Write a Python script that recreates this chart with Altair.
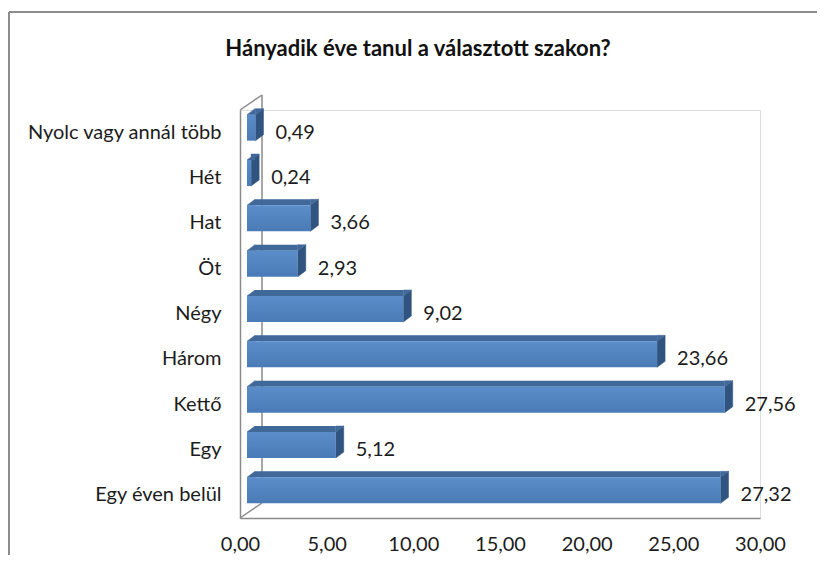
import altair as alt
import pandas as pd

categories = ["Nyolc vagy annál több", "Hét", "Hat", "Öt", "Négy", "Három", "Kettő", "Egy", "Egy éven belül"]
values = [0.49, 0.24, 3.66, 2.93, 9.02, 23.66, 27.56, 5.12, 27.32]
title_text = "Hányadik éve tanul a választott szakon?"
x_ticks = [0, 5, 10, 15, 20, 25, 30]

df = pd.DataFrame({"cat": categories, "val": values})
df["zero"] = 0.0
df["lab"] = [f"{v:.2f}".replace(".", ",") for v in values]

W, H = 520, 408
FONT = "Lato"
FS = 20
FX, FY = 7, -5          # front face offset
FRONT_H = 26
C_TOP = "#40699A"
C_SIDE = "#30547F"
C_LINE = "#8a8a8a"
C_TEXT = "#1c1c1c"

xs = alt.Scale(domain=[0, 30], nice=False, zero=True)
ys = alt.Scale(domain=categories, paddingInner=0.0, paddingOuter=0.0)

base = alt.Chart(df)

x_enc = alt.X("val:Q", scale=xs, axis=alt.Axis(
    values=x_ticks, grid=False, ticks=False, tickSize=0, labelPadding=16,
    domainColor=C_LINE, domainWidth=1.5, labelFont=FONT, labelFontSize=FS,
    labelColor=C_TEXT, labelExpr="replace(format(datum.value, '.2f'), '.', ',')",
    title=None, labelFlush=False))
y_enc = alt.Y("cat:N", scale=ys, sort=categories, axis=alt.Axis(
    ticks=False, tickSize=0, labelPadding=19, domainColor=C_LINE, domainWidth=1.5,
    labelFont=FONT, labelFontSize=FS, labelColor=C_TEXT, labelLimit=400, title=None))
y_plain = alt.Y("cat:N", sort=categories)

# right side face (parallelogram) anchored at bar end
side = base.mark_point(shape="M0,-1.3L0.8,-1.9L0.8,0.7L0,1.3Z", size=400, filled=True,
                       opacity=1, fill=C_SIDE, stroke=C_SIDE, strokeWidth=0.5,
                       xOffset=FX, yOffset=FY).encode(x=x_enc, y=y_enc)
# top face = rectangle + two triangles
top_rect = base.mark_bar(height=6, xOffset=FX + 8, x2Offset=FX, yOffset=FY - 16,
                         color=C_TOP).encode(x="zero:Q", x2="val:Q", y=y_plain)
top_left = base.mark_point(shape="M0,-1.3L0.8,-1.3L0.8,-1.9Z", size=400, filled=True,
                           opacity=1, fill=C_TOP, stroke=C_TOP, strokeWidth=0.5,
                           xOffset=FX, yOffset=FY).encode(x="zero:Q", y=y_plain)
top_right = base.mark_point(shape="M0,-1.3L0,-1.9L0.8,-1.9Z", size=400, filled=True,
                            opacity=1, fill=C_TOP, stroke=C_TOP, strokeWidth=0.5,
                            xOffset=FX, yOffset=FY).encode(x="val:Q", y=y_plain)
front = base.mark_bar(height=FRONT_H, xOffset=FX, yOffset=FY, color=alt.Gradient(
    gradient="linear", x1=0, y1=0, x2=0, y2=1,
    stops=[alt.GradientStop(color="#5A8DC9", offset=0),
           alt.GradientStop(color="#4A7BB7", offset=1)])).encode(
    x="val:Q", y=y_plain)
labels = base.mark_text(align="left", baseline="middle", dx=27, dy=0, font=FONT,
                        fontSize=FS, color=C_TEXT).encode(
    x="val:Q", y=y_plain, text="lab:N")

deco = pd.DataFrame({"d": [0]})
back_vert = alt.Chart(deco).mark_rule(color=C_LINE, strokeWidth=1.5).encode(
    x=alt.value(22), y=alt.value(-15), y2=alt.value(H - 15))
top_diag = alt.Chart(deco).mark_rule(color=C_LINE, strokeWidth=1.5).encode(
    x=alt.value(0), y=alt.value(0), x2=alt.value(22), y2=alt.value(-15))
floor_diag = alt.Chart(deco).mark_rule(color=C_LINE, strokeWidth=1.5).encode(
    x=alt.value(0), y=alt.value(H), x2=alt.value(22), y2=alt.value(H - 15))
frame_top = alt.Chart(deco).mark_rule(color="#8c8c8c", strokeWidth=2).encode(
    x=alt.value(-231), x2=alt.value(W + 60), y=alt.value(-98))
frame_left = alt.Chart(deco).mark_rule(color="#8c8c8c", strokeWidth=2).encode(
    x=alt.value(-231), y=alt.value(-98), y2=alt.value(H + 60))
title = alt.Chart(deco).mark_text(font=FONT, fontSize=22, fontWeight="bold",
                                  align="center", baseline="middle", color="#111").encode(
    x=alt.value(178), y=alt.value(-61), text=alt.value(title_text))

chart = alt.layer(frame_top, frame_left, back_vert, top_diag, floor_diag,
                  side, top_rect, top_left, top_right, front, labels, title).properties(
    width=W, height=H,
    autosize=alt.AutoSizeParams(type="none"),
    padding={"left": 232, "top": 102, "right": 57, "bottom": 37},
).configure_view(stroke=None).configure(background="white")

chart.save("out.html", embed_options={"renderer": "svg", "actions": False})
